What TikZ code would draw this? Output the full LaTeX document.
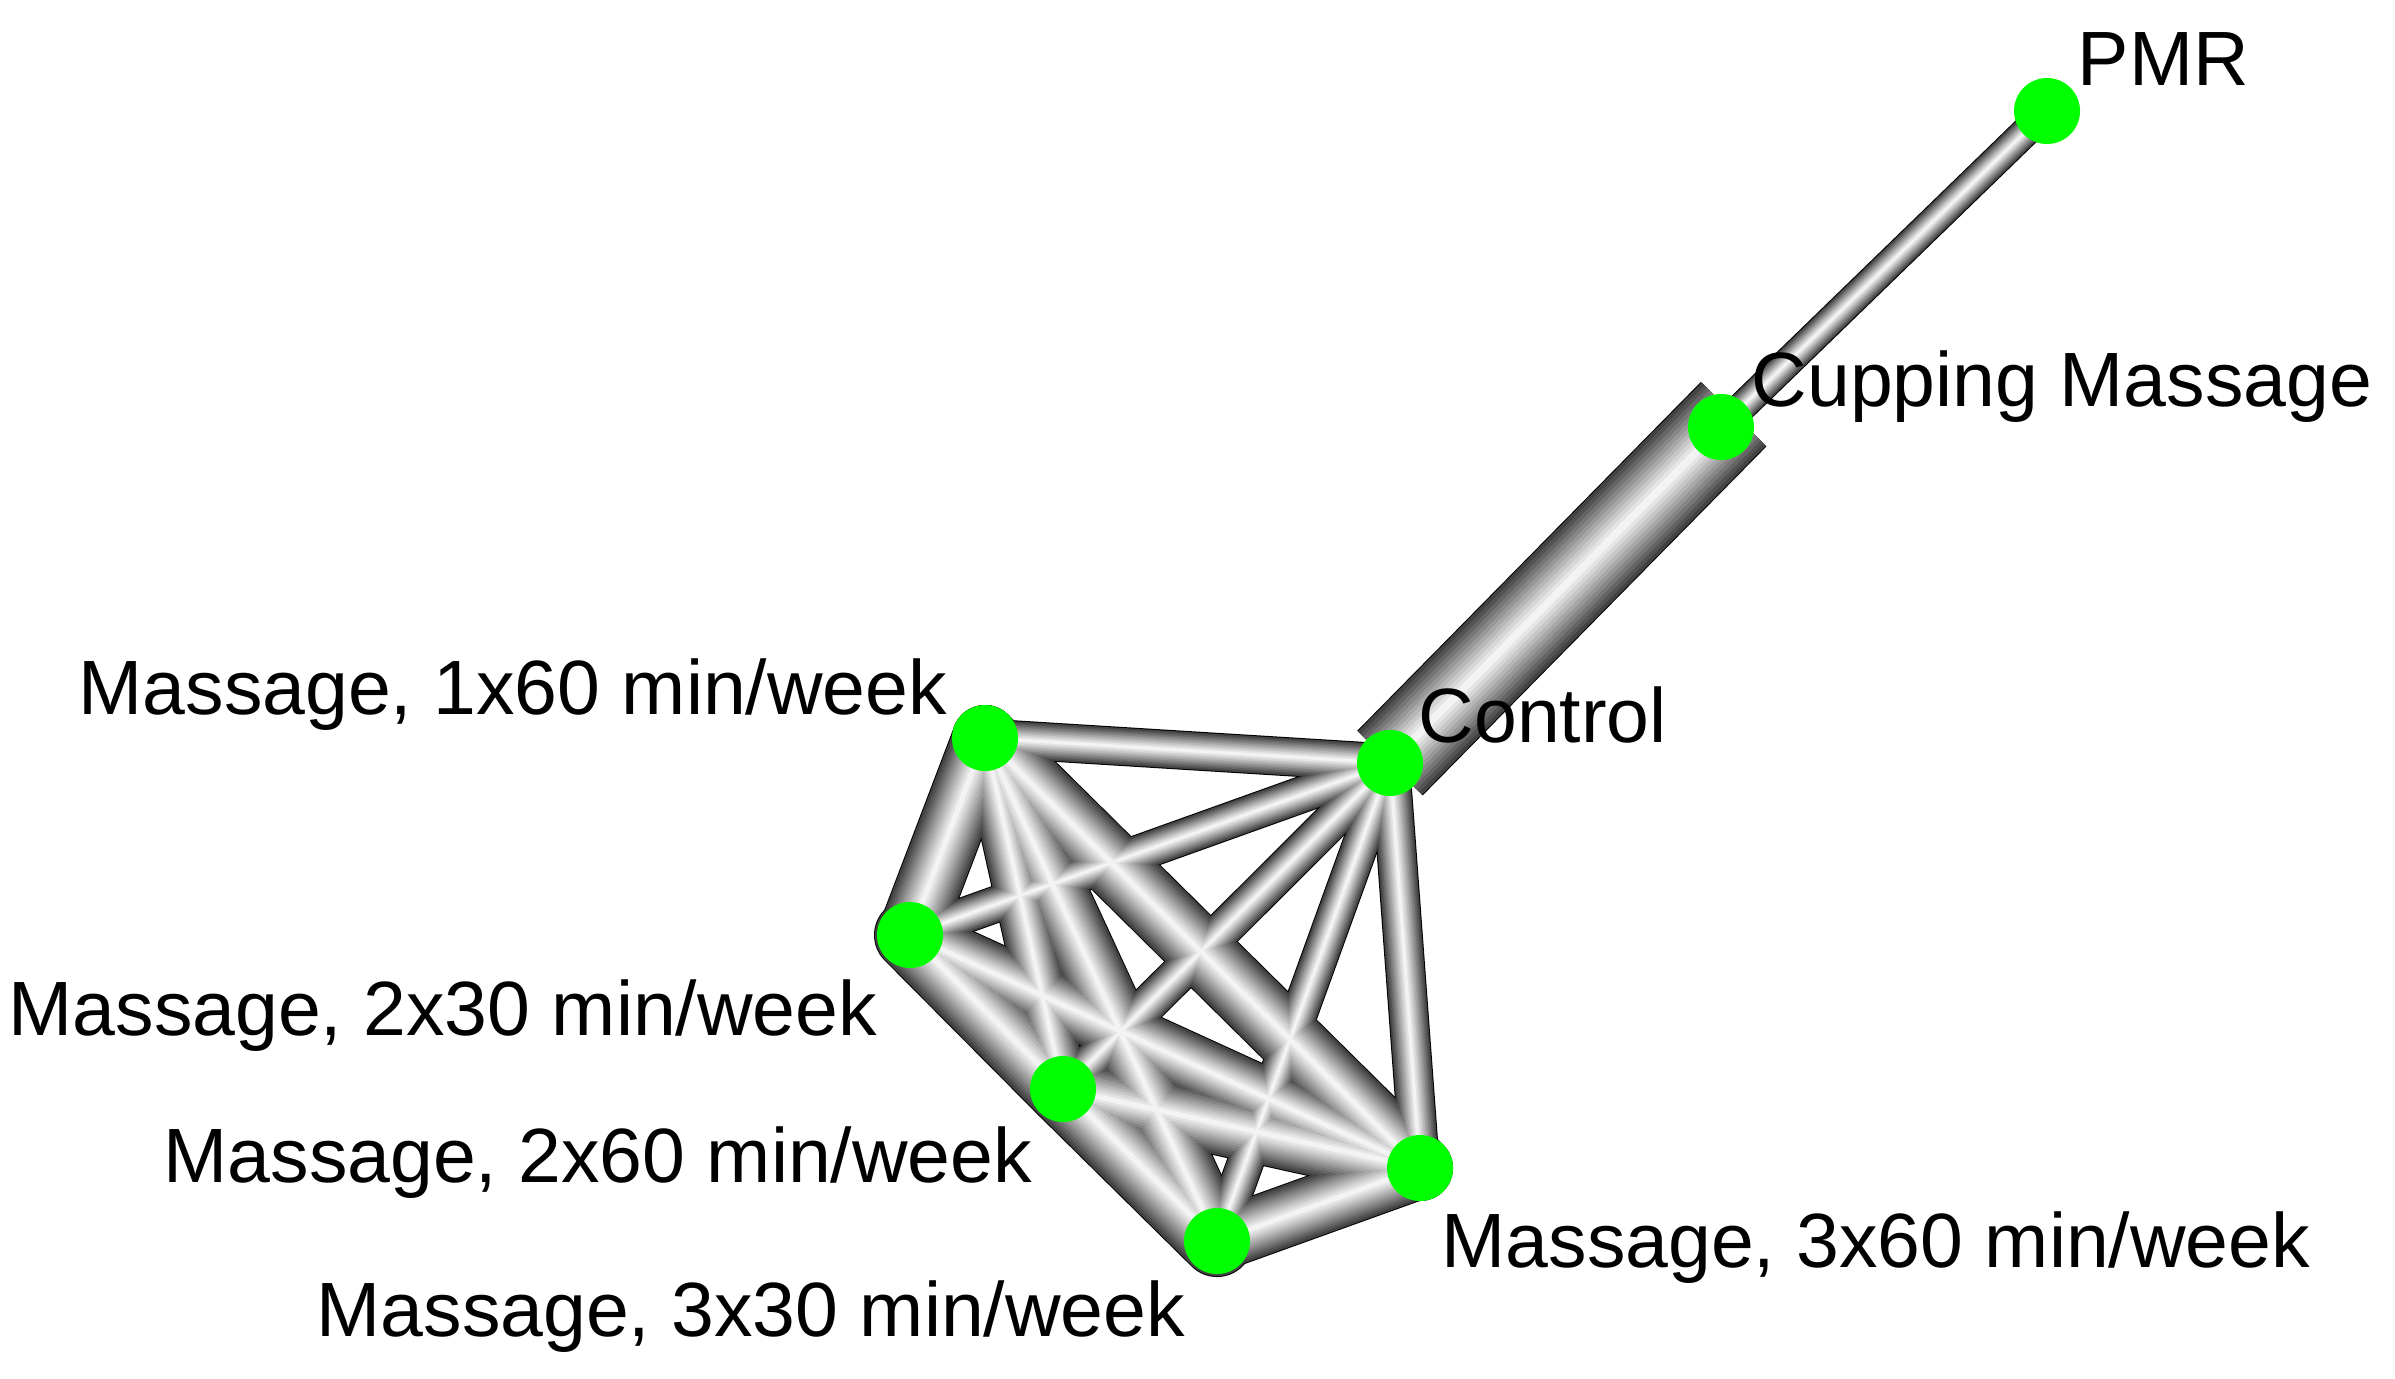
\documentclass[tikz,border=0pt]{standalone}
\usepackage{fontspec}
\setmainfont{Liberation Sans}
\definecolor{netGreen}{RGB}{0,255,0}
\usepackage{tikz}
\pgfdeclarelayer{edges}
\pgfsetlayers{edges,main}

% from/to/width(px)/style
\def\edgelist{pmr/cup/28/tube, ctl/cup/90/tubeend,
  ctl/m160/37/tube, ctl/m230/35/tube, ctl/m260/36/tube, ctl/m330/35/tube, ctl/m360/38/tube,
  m160/m230/64/tube, m160/m260/50/tube, m160/m330/62/tube, m160/m360/64/tube,
  m230/m260/70/tube, m230/m330/50/tube, m230/m360/58/tube,
  m260/m330/70/tube, m260/m360/62/tube, m330/m360/60/tube}

\begin{document}
\begin{tikzpicture}[x=0.1mm, y=-0.1mm,
    dot/.style={circle, fill=netGreen, inner sep=0pt, minimum size=6.6mm},
    lbl/.style={anchor=base west, inner sep=0pt, font=\fontsize{21.9pt}{26pt}\selectfont},
    tube/.style={line cap=round},
    tubeend/.style={line cap=butt, shorten >=-1.8mm}
  ]
  \useasboundingbox (0,0) rectangle (2395,1378);

  \node[dot] (pmr)  at (2047, 111) {};
  \node[dot] (cup)  at (1721, 427) {};
  \node[dot] (ctl)  at (1390, 763) {};
  \node[dot] (m160) at ( 985, 738) {};
  \node[dot] (m230) at ( 910, 935) {};
  \node[dot] (m260) at (1063,1089) {};
  \node[dot] (m360) at (1420,1168) {};
  \node[dot] (m330) at (1217,1241) {};

  \node[lbl] (pmr-l)  at (2077,  85) {PMR};
  \node[lbl] (cup-l)  at (1751, 406) {Cupping Massage};
  \node[lbl] (ctl-l)  at (1418, 742) {Control};
  \node[lbl] (m160-l) at (  78, 714) {Massage, 1x60 min/week};
  \node[lbl] (m230-l) at (   8,1035) {Massage, 2x30 min/week};
  \node[lbl] (m260-l) at ( 163,1182) {Massage, 2x60 min/week};
  \node[lbl] (m330-l) at ( 316,1336) {Massage, 3x30 min/week};
  \node[lbl] (m360-l) at (1441,1267) {Massage, 3x60 min/week};

  % tubes: all edges layer by layer, dark rim first, white core last
  \begin{pgfonlayer}{edges}
    \foreach \k in {0,...,12} {
      \pgfmathsetmacro{\d}{\k==0 ? 1 : 1-(\k-1)/12}
      \pgfmathsetmacro{\dk}{\k==0 ? 100 : 74*\d^1.1}
      \pgfmathsetmacro{\ex}{\k==0 ? 2 : 0}
      \foreach \a/\b/\w/\st in \edgelist {
        \pgfmathsetmacro{\lw}{(\w*\d+\ex)*0.1}
        \draw[\st, line width=\lw mm, black!\dk] (\a.center) -- (\b.center);
      }
    }
  \end{pgfonlayer}
\end{tikzpicture}
\end{document}
